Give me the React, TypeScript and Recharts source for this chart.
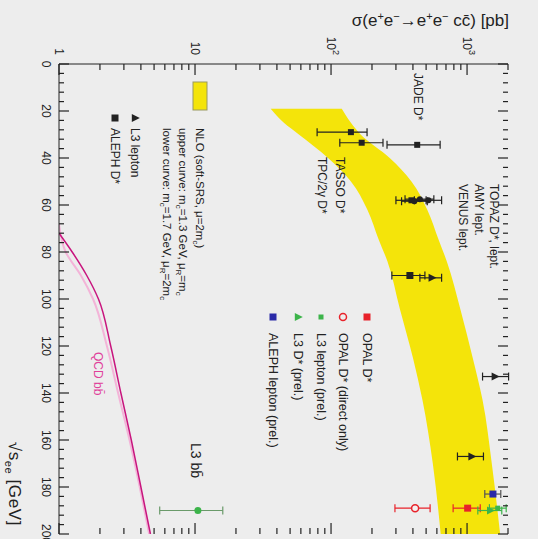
import {
  ComposedChart,
  XAxis,
  YAxis,
  Area,
  Line,
  Scatter,
  ErrorBar,
} from 'recharts'

// sqrt(s) in GeV, sigma in pb, err = [down, up]
const nloBand = [
  { s: 19, range: [36, 120] },
  { s: 25, range: [45, 140] },
  { s: 30, range: [58, 165] },
  { s: 40, range: [95, 270] },
  { s: 50, range: [140, 390] },
  { s: 62, range: [185, 510] },
  { s: 75, range: [225, 620] },
  { s: 84, range: [260, 710] },
  { s: 104, range: [320, 890] },
  { s: 125, range: [400, 1100] },
  { s: 143, range: [470, 1300] },
  { s: 170, range: [560, 1520] },
  { s: 200, range: [640, 1750] },
]

const qcdBB = [
  { s: 72, sigma: 1.0 },
  { s: 80, sigma: 1.25 },
  { s: 90, sigma: 1.6 },
  { s: 100, sigma: 1.95 },
  { s: 120, sigma: 2.4 },
  { s: 140, sigma: 2.85 },
  { s: 160, sigma: 3.4 },
  { s: 180, sigma: 4.0 },
  { s: 200, sigma: 4.7 },
]

const qcdBBLow = [
  { s: 68, sigma: 1.0 },
  { s: 80, sigma: 1.12 },
  { s: 90, sigma: 1.45 },
  { s: 100, sigma: 1.78 },
  { s: 120, sigma: 2.25 },
  { s: 140, sigma: 2.72 },
  { s: 160, sigma: 3.3 },
  { s: 180, sigma: 3.92 },
  { s: 200, sigma: 4.6 },
]

const oldDstar = [
  { s: 29, sigma: 140, err: [61, 44] },
  { s: 33.5, sigma: 168, err: [52, 73] },
  { s: 34.4, sigma: 430, err: [172, 204] },
  { s: 58, sigma: 390, err: [90, 110] },
]

const oldLepton = [
  { s: 57.5, sigma: 450, err: [100, 120] },
  { s: 58, sigma: 520, err: [110, 130] },
  { s: 58.4, sigma: 410, err: [80, 100] },
]

const l3Lepton = [
  { s: 91, sigma: 550, err: [100, 100] },
  { s: 133, sigma: 1600, err: [300, 420] },
  { s: 167, sigma: 1080, err: [230, 240] },
]

const alephDstar = [{ s: 90, sigma: 380, err: [100, 110] }]

const opalDstar = [{ s: 189, sigma: 1010, err: [220, 240] }]
const opalDirect = [{ s: 189, sigma: 415, err: [120, 120] }]
const l3LeptonPrel = [{ s: 189, sigma: 1680, err: [220, 260] }]
const l3DstarPrel = [{ s: 190, sigma: 1480, err: [280, 320] }]
const alephLeptonPrel = [{ s: 183, sigma: 1550, err: [200, 220] }]
const l3bb = [{ s: 190, sigma: 10.5, err: [5, 5.5] }]

const sMajor = [0, 20, 40, 60, 80, 100, 120, 140, 160, 180, 200]
const sTicks = Array.from({ length: 51 }, (_, i) => i * 4)
const sigmaMajor = [1, 10, 100, 1000]
const sigmaTicks = [
  1, 2, 3, 4, 5, 6, 7, 8, 9,
  10, 20, 30, 40, 50, 60, 70, 80, 90,
  100, 200, 300, 400, 500, 600, 700, 800, 900,
  1000, 2000,
]

const S_MIN = 0
const S_MAX = 200
const SIG_MIN = 1
const SIG_MAX = 2000

const W = 539
const H = 538
const MARGIN = { top: 30, right: 5, bottom: 0, left: 0 }
const X_AXIS_H = 59
const Y_AXIS_W = 64
// plot frame, same numbers the chart lays itself out with
const PLOT_L = MARGIN.left + Y_AXIS_W
const PLOT_R = W - MARGIN.right
const PLOT_T = MARGIN.top
const PLOT_B = H - MARGIN.bottom - X_AXIS_H

const INK = '#222'
const FONT = '"Liberation Sans", Arial, sans-serif'
const YELLOW = '#f4e40a'
const RED = '#e8222a'
const GREEN = '#3cb44a'
const BLUE = '#2a2aa8'

const square = (size: number, fill: string) => (p: any) => (
  <rect x={p.cx - size / 2} y={p.cy - size / 2} width={size} height={size} fill={fill} />
)
const triangle = (size: number, fill: string) => (p: any) => (
  <polygon
    points={`${p.cx},${p.cy - size * 0.6} ${p.cx - size / 2},${p.cy + size * 0.4} ${p.cx + size / 2},${p.cy + size * 0.4}`}
    fill={fill}
  />
)
const circle = (r: number, fill: string, stroke?: string) => (p: any) => (
  <circle cx={p.cx} cy={p.cy} r={r} fill={fill} stroke={stroke ?? 'none'} strokeWidth={1.5} />
)

const expLabel = (v: number) => {
  if (v === 1) return '1'
  if (v === 10) return '10'
  return (
    <>
      10<tspan dy={-6} fontSize={9}>{Math.round(Math.log10(v))}</tspan>
    </>
  )
}

function BottomLabel(props: any) {
  if (!sMajor.includes(props.payload.value)) return <g />
  return (
    <text x={props.x} y={Number(props.y) + 17} textAnchor="middle" fontSize={12} fill={INK} fontFamily={FONT}>
      {props.payload.value}
    </text>
  )
}

function LeftLabel(props: any) {
  if (!sigmaMajor.includes(props.payload.value)) return <g />
  return (
    <text x={Number(props.x) - 9} y={Number(props.y) + 4} textAnchor="end" fontSize={12} fill={INK} fontFamily={FONT}>
      {expLabel(props.payload.value)}
    </text>
  )
}

// inward ROOT-style tick marks on all four sides of the frame
function FrameTicks() {
  const px = (s: number) => PLOT_L + ((s - S_MIN) / (S_MAX - S_MIN)) * (PLOT_R - PLOT_L)
  const py = (v: number) =>
    PLOT_B - (Math.log10(v / SIG_MIN) / Math.log10(SIG_MAX / SIG_MIN)) * (PLOT_B - PLOT_T)
  const st = { stroke: INK, strokeWidth: 1.2 }
  return (
    <g>
      {sTicks.map((v) => {
        const x = px(v)
        const len = sMajor.includes(v) ? 10 : 5
        return (
          <g key={`s${v}`}>
            <line x1={x} x2={x} y1={PLOT_B} y2={PLOT_B - len} {...st} />
            <line x1={x} x2={x} y1={PLOT_T} y2={PLOT_T + len} {...st} />
          </g>
        )
      })}
      {sigmaTicks.map((v) => {
        const y = py(v)
        const len = sigmaMajor.includes(v) ? 11 : 6
        return (
          <g key={`g${v}`}>
            <line x1={PLOT_L} x2={PLOT_L + len} y1={y} y2={y} {...st} />
            <line x1={PLOT_R} x2={PLOT_R - len} y1={y} y2={y} {...st} />
          </g>
        )
      })}
    </g>
  )
}

function Overlay() {
  const t = { fontFamily: FONT, fill: INK }
  return (
    <svg width={W} height={H} style={{ position: 'absolute', left: 0, top: 0, pointerEvents: 'none' }}>
      <FrameTicks />

      {/* axis titles */}
      <text transform="translate(26, 29) rotate(-90)" textAnchor="end" fontSize={17} {...t}>
        σ(e<tspan dy={-6} fontSize={11}>+</tspan><tspan dy={6}>e</tspan>
        <tspan dy={-6} fontSize={11}>−</tspan><tspan dy={6}>→e</tspan>
        <tspan dy={-6} fontSize={11}>+</tspan><tspan dy={6}>e</tspan>
        <tspan dy={-6} fontSize={11}>−</tspan><tspan dy={6}> cc̄) [pb]</tspan>
      </text>
      <text x={526} y={529} textAnchor="end" fontSize={17} letterSpacing={0.6} {...t}>
        √s<tspan dy={4} fontSize={11}>ee</tspan><tspan dy={-4}> [GeV]</tspan>
      </text>

      {/* experiment labels */}
      <text x={73} y={124} fontSize={12} {...t}>JADE D*</text>
      <text x={157} y={202} fontSize={12} {...t}>TASSO D*</text>
      <text x={157} y={220} fontSize={12} {...t}>TPC/2γ D*</text>
      <text x={184} y={48} fontSize={12} {...t}>TOPAZ D*, lept.</text>
      <text x={184} y={63} fontSize={12} {...t}>AMY lept.</text>
      <text x={184} y={79} fontSize={12} {...t}>VENUS lept.</text>
      <text x={443} y={347} fontSize={14} {...t}>L3 bb̄</text>
      <text x={352} y={444} fontSize={12} fontFamily={FONT} fill="#e0409a">QCD bb̄</text>

      {/* NLO legend */}
      <rect x={82} y={331} width={28} height={14} fill={YELLOW} stroke="#9a9a60" />
      <text x={128} y={342} fontSize={11.5} {...t}>NLO (soft-SRS, μ=2m<tspan dy={3} fontSize={8}>c</tspan><tspan dy={-3}>)</tspan></text>
      <text x={128} y={359} fontSize={11.5} {...t}>upper curve: m<tspan dy={3} fontSize={8}>c</tspan><tspan dy={-3}>=1.3 GeV, μ</tspan><tspan dy={3} fontSize={8}>R</tspan><tspan dy={-3}>=m</tspan><tspan dy={3} fontSize={8}>c</tspan></text>
      <text x={128} y={375} fontSize={11.5} {...t}>lower curve: m<tspan dy={3} fontSize={8}>c</tspan><tspan dy={-3}>=1.7 GeV, μ</tspan><tspan dy={3} fontSize={8}>R</tspan><tspan dy={-3}>=2m</tspan><tspan dy={3} fontSize={8}>c</tspan></text>

      {/* black legend */}
      {triangle(8, INK)({ cx: 118, cy: 403 })}
      <text x={128} y={407} fontSize={12} {...t}>L3 lepton</text>
      {square(7, INK)({ cx: 118, cy: 423 })}
      <text x={128} y={427} fontSize={12} {...t}>ALEPH D*</text>

      {/* coloured legend */}
      {square(7, RED)({ cx: 317, cy: 171 })}
      <text x={333} y={175} fontSize={12.5} {...t}>OPAL D*</text>
      {circle(3.5, 'none', RED)({ cx: 317, cy: 195 })}
      <text x={333} y={199} fontSize={12.5} {...t}>OPAL D* (direct only)</text>
      {square(5, GREEN)({ cx: 317, cy: 217 })}
      <text x={333} y={221} fontSize={12.5} {...t}>L3 lepton (prel.)</text>
      {triangle(8, GREEN)({ cx: 317, cy: 240 })}
      <text x={333} y={244} fontSize={12.5} {...t}>L3 D* (prel.)</text>
      {square(7, BLUE)({ cx: 317, cy: 265 })}
      <text x={333} y={269} fontSize={12.5} {...t}>ALEPH lepton (prel.)</text>
    </svg>
  )
}

function Chart() {
  const eb = (c: string) => (
    <ErrorBar dataKey="err" direction="y" width={4} stroke={c} strokeWidth={1.2} isAnimationActive={false} />
  )
  return (
    <ComposedChart width={W} height={H} margin={MARGIN}>
      <XAxis
        dataKey="s"
        type="number"
        domain={[S_MIN, S_MAX]}
        allowDataOverflow
        ticks={sTicks}
        interval={0}
        height={X_AXIS_H}
        tickLine={false}
        tickSize={0}
        tickMargin={0}
        stroke={INK}
        tick={BottomLabel}
      />
      <XAxis
        xAxisId="top"
        dataKey="s"
        type="number"
        orientation="top"
        domain={[S_MIN, S_MAX]}
        height={0}
        tick={false}
        tickLine={false}
        stroke={INK}
      />
      <YAxis
        type="number"
        scale="log"
        domain={[SIG_MIN, SIG_MAX]}
        allowDataOverflow
        ticks={sigmaTicks}
        interval={0}
        width={Y_AXIS_W}
        tickLine={false}
        tickSize={0}
        tickMargin={0}
        stroke={INK}
        tick={LeftLabel}
      />
      <YAxis
        yAxisId="right"
        orientation="right"
        type="number"
        scale="log"
        domain={[SIG_MIN, SIG_MAX]}
        width={0}
        tick={false}
        tickLine={false}
        stroke={INK}
      />

      <Area data={nloBand} dataKey="range" type="monotone" stroke="none" fill={YELLOW} fillOpacity={1} isAnimationActive={false} />
      <Line data={qcdBBLow} dataKey="sigma" type="monotone" stroke="#f3b4d8" strokeWidth={2} dot={false} isAnimationActive={false} />
      <Line data={qcdBB} dataKey="sigma" type="monotone" stroke="#c8157e" strokeWidth={1.5} dot={false} isAnimationActive={false} />

      <Scatter data={oldDstar} dataKey="sigma" shape={square(6, INK)} isAnimationActive={false}>{eb(INK)}</Scatter>
      <Scatter data={oldLepton} dataKey="sigma" shape={circle(3, INK)} isAnimationActive={false}>{eb(INK)}</Scatter>
      <Scatter data={alephDstar} dataKey="sigma" shape={square(7, INK)} isAnimationActive={false}>{eb(INK)}</Scatter>
      <Scatter data={l3Lepton} dataKey="sigma" shape={triangle(8, INK)} isAnimationActive={false}>{eb(INK)}</Scatter>
      <Scatter data={opalDirect} dataKey="sigma" shape={circle(3.5, '#f4f0f0', RED)} isAnimationActive={false}>{eb(RED)}</Scatter>
      <Scatter data={opalDstar} dataKey="sigma" shape={square(7, RED)} isAnimationActive={false}>{eb(RED)}</Scatter>
      <Scatter data={alephLeptonPrel} dataKey="sigma" shape={square(7, BLUE)} isAnimationActive={false}>{eb('#555')}</Scatter>
      <Scatter data={l3DstarPrel} dataKey="sigma" shape={triangle(8, GREEN)} isAnimationActive={false}>{eb(GREEN)}</Scatter>
      <Scatter data={l3LeptonPrel} dataKey="sigma" shape={square(5, GREEN)} isAnimationActive={false}>{eb(GREEN)}</Scatter>
      <Scatter data={l3bb} dataKey="sigma" shape={circle(3.5, GREEN)} isAnimationActive={false}>{eb('#6a9a6a')}</Scatter>
    </ComposedChart>
  )
}

export default function App() {
  return (
    <div style={{ position: 'fixed', left: 0, top: 0, width: 538, height: 539, background: '#ededed', overflow: 'hidden' }}>
      <div
        style={{
          position: 'absolute',
          left: 0,
          top: 0,
          width: W,
          height: H,
          transformOrigin: '0 0',
          transform: 'translate(538px, 0) rotate(90deg)',
        }}
      >
        <Chart />
        <Overlay />
      </div>
    </div>
  )
}
